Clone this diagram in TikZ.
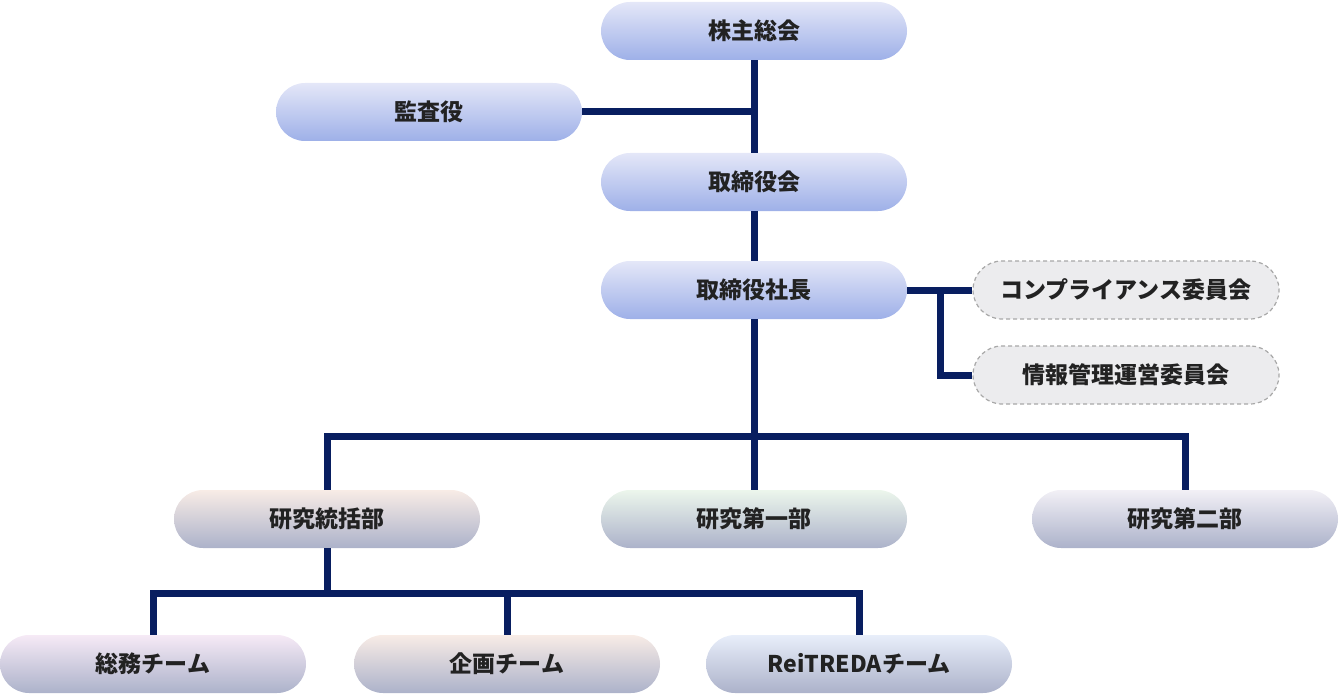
\documentclass[tikz,border=0pt]{standalone}
\usepackage{fontspec}
\setmainfont{Noto Sans CJK JP}[BoldFont={Noto Sans CJK JP Black}]
\usepackage{tikz}
\usepackage{color}
\definecolor{orgNavy}{RGB}{8,30,96}
\definecolor{orgText}{RGB}{34,34,34}
\definecolor{orgBlueTop}{RGB}{228,231,248}
\definecolor{orgBlueBot}{RGB}{158,176,232}
\definecolor{orgGrayTop}{RGB}{242,240,246}
\definecolor{orgGrayBot}{RGB}{172,178,202}
\definecolor{orgPeach}{RGB}{248,236,230}
\definecolor{orgMint}{RGB}{236,246,236}
\definecolor{orgPink}{RGB}{246,234,246}
\definecolor{orgSky}{RGB}{232,238,250}
\definecolor{orgCommittee}{RGB}{236,236,238}
\definecolor{orgDash}{RGB}{168,168,168}

\begin{document}
\begin{tikzpicture}[x=1pt, y=-1pt, text=orgText,
	link/.style={draw=orgNavy, line width=7pt},
	pill/.style={rectangle, rounded corners=29pt, minimum width=306pt, minimum height=58pt, inner sep=0pt, font=\fontsize{23pt}{25pt}\selectfont\bfseries}]
		\useasboundingbox (0,0) rectangle (1340,695);
		
		% Board
		\begin{scope}[every node/.style={pill, top color=orgBlueTop, middle color=orgBlueTop!80!orgBlueBot, bottom color=orgBlueBot}]
			\node (kabunushi) at (754,31) {株主総会};
			\node (kansa) at (429,112) {監査役};
			\node (torikai) at (754,182) {取締役会};
			\node (shacho) at (754,290) {取締役社長};
		\end{scope}
		
		% Committees
		\begin{scope}[every node/.style={pill, fill=orgCommittee, draw=orgDash, line width=1.2pt, dash pattern=on 4pt off 3pt}]
			\node (compliance) at (1126,290) {コンプライアンス委員会};
			\node (johokanri) at (1126,375) {情報管理運営委員会};
		\end{scope}
		
		% Departments
		\begin{scope}[every node/.style={pill, middle color=orgGrayTop!85!orgGrayBot, bottom color=orgGrayBot}]
			\node (tokatsu) at (327,519) [top color=orgPeach] {研究統括部};
			\node (daiichi) at (754,519) [top color=orgMint] {研究第一部};
			\node (daini) at (1185,519) [top color=orgGrayTop] {研究第二部};
		\end{scope}
		
		% Teams
		\begin{scope}[every node/.style={pill, middle color=orgGrayTop!85!orgGrayBot, bottom color=orgGrayBot}]
			\node (somu) at (153,664) [top color=orgPink] {総務チーム};
			\node (kikaku) at (507,664) [top color=orgPeach] {企画チーム};
			\node (reitreda) at (859,664) [top color=orgSky] {ReiTREDAチーム};
		\end{scope}
		
		% Junctions
		\coordinate (cmtJoin) at (940,290);
		\coordinate (deptBus) at (754,436);
		\coordinate (teamBus) at (327,593);
		
		% Links
		\draw [link] (kabunushi.south) -- (torikai.north);
		\draw [link] (kansa.east) -- (kansa.east -| kabunushi.south);
		\draw [link] (torikai.south) -- (shacho.north);
		\draw [link] (shacho.east) -- (compliance.west);
		\draw [link] (cmtJoin) |- (johokanri.west);
		\draw [link] (shacho.south) -- (deptBus);
		\draw [link] (tokatsu.north) |- (deptBus) -| (daini.north);
		\draw [link] (deptBus) -- (daiichi.north);
		\draw [link] (tokatsu.south) -- (teamBus);
		\draw [link] (somu.north) |- (teamBus) -| (reitreda.north);
		\draw [link] (teamBus -| kikaku.north) -- (kikaku.north);
	\end{tikzpicture}
\end{document}
